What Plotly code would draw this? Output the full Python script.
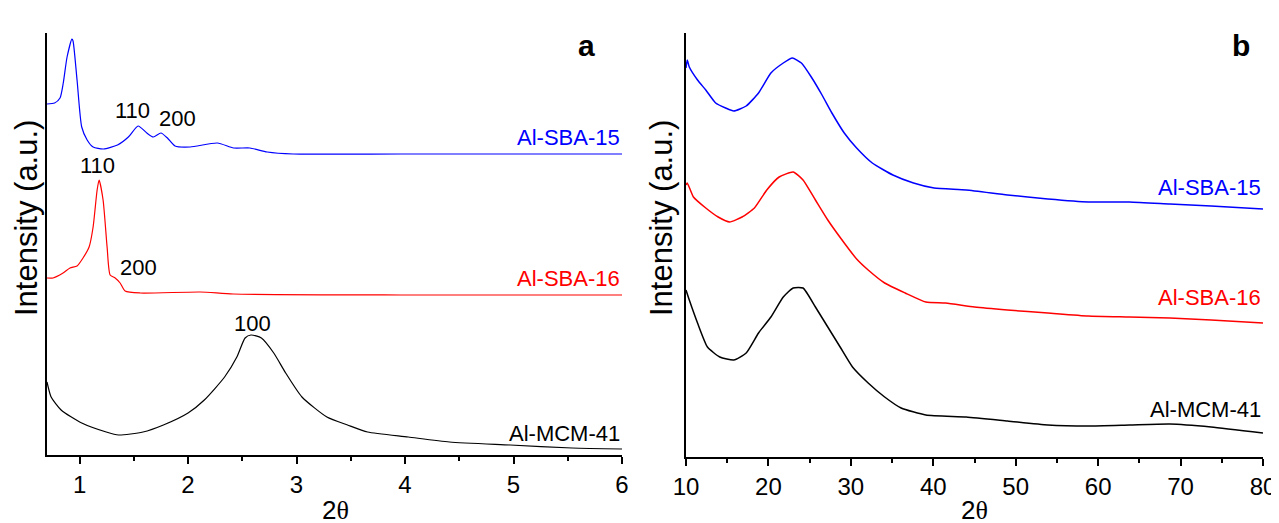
import plotly.graph_objects as go

# ---------------- Panel a (low-angle XRD) ----------------
a_sba15_x = [0.70, 0.77, 0.82, 0.85, 0.885, 0.93, 0.94, 0.977, 1.02, 1.07, 1.125, 1.22, 1.35, 1.45,
             1.54, 1.62, 1.68, 1.75, 1.81, 1.88, 2.02, 2.27, 2.42, 2.57, 2.73, 2.97, 3.96, 6.0]
a_sba15_y = [351, 352, 357, 372, 398, 416, 414, 375, 328, 315, 308, 306, 310, 318,
             329, 322, 318, 322, 317, 309, 308, 312, 307, 307, 303, 301, 301, 301]

a_sba16_x = [0.70, 0.755, 0.848, 0.912, 0.977, 1.032, 1.088, 1.125, 1.162, 1.18, 1.217, 1.254, 1.282,
             1.328, 1.374, 1.42, 1.559, 2.113, 2.417, 3.96, 6.0]
a_sba16_y = [177, 177, 182, 187, 189, 197, 208, 228, 265, 275, 255, 208, 180,
             177, 172, 164, 162, 163, 161, 160, 160]

a_mcm41_x = [0.70, 0.738, 0.83, 1.02, 1.246, 1.36, 1.585, 1.773, 2.0, 2.15, 2.337, 2.45, 2.526, 2.58,
             2.676, 2.79, 2.9, 3.05, 3.28, 3.47, 3.655, 4.03, 4.41, 4.97, 5.54, 6.0]
a_mcm41_y = [73, 58, 45, 32, 23, 20, 23, 30, 42, 55, 78, 98, 117, 120,
             117, 102, 82, 58, 38, 30, 23, 18, 13, 10, 7, 6]

# ---------------- Panel b (wide-angle XRD) ----------------
b_sba15_x = [10.0, 10.15, 10.4, 11.4, 12.4, 13.6, 14.8, 15.8, 17.3, 18.8, 20.3, 21.8, 22.9, 24.0, 25.2,
             26.5, 27.7, 29.2, 30.7, 32.6, 35.1, 37.6, 40.1, 44.0, 49.0, 53.9, 58.8, 63.8, 68.7, 73.7, 80.0]
b_sba15_y = [389, 397, 390, 377, 367, 354, 349, 346, 351, 364, 384, 394, 399, 394, 380,
             362, 344, 324, 309, 294, 282, 274, 269, 267, 262, 258, 255, 255, 253, 251, 248]

b_sba16_x = [10.0, 10.15, 10.9, 12.4, 13.9, 15.3, 16.8, 18.3, 19.8, 21.3, 23.0, 24.2, 25.7, 27.2, 29.2,
             30.7, 32.1, 34.1, 36.6, 39.1, 41.5, 45.0, 49.0, 53.9, 58.8, 63.8, 68.7, 73.7, 80.0]
b_sba16_y = [272, 274, 260, 249, 240, 235, 240, 249, 267, 280, 285, 277, 257, 237, 214,
             198, 187, 174, 164, 155, 154, 150, 147, 144, 141, 140, 139, 137, 134]

b_mcm41_x = [10.0, 10.4, 11.4, 12.6, 14.1, 15.8, 17.3, 18.8, 20.3, 21.8, 23.0, 24.2, 25.7, 27.2,
             28.7, 30.2, 32.1, 34.1, 36.1, 39.1, 44.0, 49.0, 53.9, 58.8, 63.8, 68.7, 73.7, 80.0]
b_mcm41_y = [167, 157, 134, 110, 100, 97, 104, 124, 140, 160, 169, 169, 150, 130,
             110, 90, 74, 60, 49, 42, 40, 36, 32, 31, 32, 33, 30, 24]

a_ticks = [1, 2, 3, 4, 5, 6]
b_ticks = [10, 20, 30, 40, 50, 60, 70, 80]
series_names = ["Al-SBA-15", "Al-SBA-16", "Al-MCM-41"]
series_colors = ["#0000ff", "#ff0000", "#000000"]

FONT = "Arial, Liberation Sans, sans-serif"
W, H = 1279, 523
OFF = 8  # page body margin in the browser


def px(X):
    return (X - OFF) / W


def py(Y):
    return 1 - (Y - OFF) / H


fig = go.Figure()
for xs, ys, c in [(a_sba15_x, a_sba15_y, series_colors[0]),
                  (a_sba16_x, a_sba16_y, series_colors[1]),
                  (a_mcm41_x, a_mcm41_y, series_colors[2])]:
    fig.add_trace(go.Scatter(x=xs, y=ys, mode="lines", line=dict(color=c, width=1.2, shape="spline", smoothing=0.6),
                             xaxis="x", yaxis="y", showlegend=False, hoverinfo="skip"))
for xs, ys, c in [(b_sba15_x, b_sba15_y, series_colors[0]),
                  (b_sba16_x, b_sba16_y, series_colors[1]),
                  (b_mcm41_x, b_mcm41_y, series_colors[2])]:
    fig.add_trace(go.Scatter(x=xs, y=ys, mode="lines", line=dict(color=c, width=1.5, shape="spline", smoothing=0.5),
                             xaxis="x2", yaxis="y2", showlegend=False, hoverinfo="skip"))

axis_common = dict(showline=True, linecolor="black", linewidth=1.5, showgrid=False, zeroline=False,
                   mirror=False, automargin=False)
xtick_common = dict(ticks="outside", ticklen=7, tickwidth=1.5, tickcolor="black",
                    tickfont=dict(size=24, color="black"))
fig.update_layout(
    width=W, height=H, margin=dict(l=0, r=0, t=0, b=0, autoexpand=False),
    paper_bgcolor="white", plot_bgcolor="white",
    font=dict(family=FONT, color="black"),
    xaxis=dict(domain=[px(47), px(622)], range=[0.7, 6], tickvals=a_ticks,
               minor=dict(dtick=0.5, ticks="outside", ticklen=4, tickwidth=1.5, tickcolor="black"),
               anchor="y", **xtick_common, **axis_common),
    yaxis=dict(domain=[py(455), py(33)], range=[0, 422], showticklabels=False, ticks="",
               anchor="x", **axis_common),
    xaxis2=dict(domain=[px(686), px(1263)], range=[10, 80], tickvals=b_ticks,
                minor=dict(dtick=5, ticks="outside", ticklen=4, tickwidth=1.5, tickcolor="black"),
                anchor="y2", **xtick_common, **axis_common),
    yaxis2=dict(domain=[py(457), py(33)], range=[0, 424], showticklabels=False, ticks="",
                anchor="x2", **axis_common),
)

ann = []
# peak labels panel a
for txt, x, y in [("100", 0.93, 435), ("110", 1.49, 345), ("200", 1.90, 337),
                  ("110", 1.17, 290), ("200", 1.54, 188), ("100", 2.59, 132)]:
    ann.append(dict(text=txt, x=x, y=y, xref="x", yref="y", xanchor="center", yanchor="middle",
                    showarrow=False, font=dict(size=22, color="black")))
# series labels
for name, c, y in zip(series_names, series_colors, [318, 177, 22]):
    ann.append(dict(text=name, x=6, y=y, xref="x", yref="y", xanchor="right", yanchor="middle",
                    showarrow=False, font=dict(size=22, color=c)))
for name, c, y in zip(series_names, series_colors, [270, 160, 48]):
    ann.append(dict(text=name, x=80, y=y, xref="x2", yref="y2", xanchor="right", yanchor="middle",
                    showarrow=False, font=dict(size=22, color=c)))
# panel letters
ann.append(dict(text="<b>a</b>", x=px(586), y=py(45), xref="paper", yref="paper",
                xanchor="center", yanchor="middle", showarrow=False, font=dict(size=30, color="black")))
ann.append(dict(text="<b>b</b>", x=px(1241), y=py(45), xref="paper", yref="paper",
                xanchor="center", yanchor="middle", showarrow=False, font=dict(size=30, color="black")))
# axis titles
for X in [26, 661]:
    ann.append(dict(text="Intensity (a.u.)", x=px(X), y=py(218), xref="paper", yref="paper",
                    xanchor="center", yanchor="middle", textangle=-90, showarrow=False,
                    font=dict(size=31, color="black")))
theta_title = "2<span style='font-family:Liberation Serif, Times New Roman, serif'>θ</span>"
for X in [335, 974]:
    ann.append(dict(text=theta_title, x=px(X), y=py(510), xref="paper", yref="paper",
                    xanchor="center", yanchor="middle", showarrow=False,
                    font=dict(size=26, color="black")))
fig.update_layout(annotations=ann)

fig.write_html("out.html")
